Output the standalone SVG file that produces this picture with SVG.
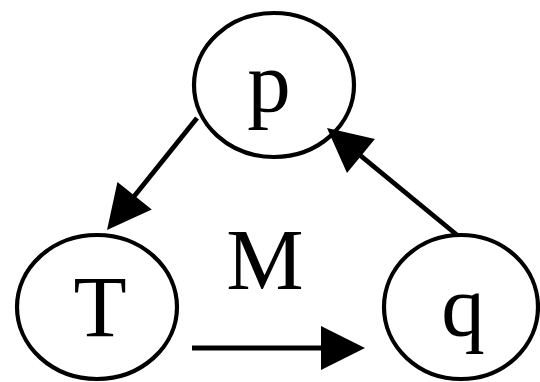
<svg xmlns="http://www.w3.org/2000/svg" width="540" height="382" viewBox="0 0 540 382">
<defs>
<style>
.node ellipse{fill:#fff;stroke:#000;stroke-width:4.2}
.node text{font-family:"Liberation Serif","Times New Roman",serif;font-size:87px;fill:#000;text-anchor:middle}
.edge{stroke:#000;stroke-width:4.8;fill:none;marker-end:url(#ah)}
.lbl{font-family:"Liberation Serif","Times New Roman",serif;font-size:87px;fill:#000;text-anchor:middle}
</style>
<marker id="ah" markerUnits="userSpaceOnUse" markerWidth="46" markerHeight="46" refX="34" refY="22" orient="auto" viewBox="0 0 46 46" overflow="visible">
<path d="M0,0 L44,22 L0,44 Z" fill="#000"/>
</marker>
</defs>
<rect width="540" height="382" fill="#fff"/>
<g id="node-p" class="node">
<ellipse cx="274" cy="85" rx="80" ry="72"/>
<text x="269" y="111">p</text>
</g>
<g id="node-T" class="node">
<ellipse cx="97" cy="307" rx="80" ry="72"/>
<text x="100" y="336">T</text>
</g>
<g id="node-q" class="node">
<ellipse cx="461" cy="307" rx="77" ry="72"/>
<text x="463" y="335">q</text>
</g>
<g id="connectors">
<line class="edge" x1="197" y1="118" x2="113.3" y2="222.2"/>
<line class="edge" x1="192" y1="348" x2="355" y2="348"/>
<line class="edge" x1="457" y1="235" x2="334.7" y2="134.4"/>
<text class="lbl" x="265" y="289">M</text>
</g>
</svg>
